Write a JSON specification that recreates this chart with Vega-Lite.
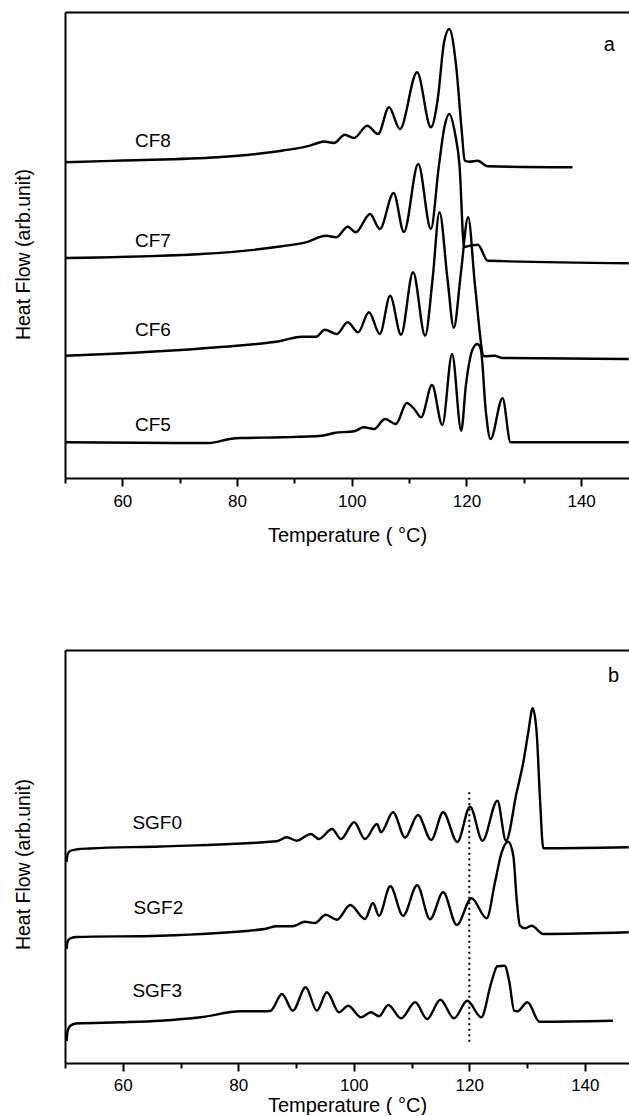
{
  "$schema": "https://vega.github.io/schema/vega-lite/v6.json",
  "padding": {"left": 13, "top": 12, "right": 0, "bottom": 0},
  "bounds": "flush",
  "spacing": 172,
  "config": {
    "font": "Liberation Sans",
    "view": {"stroke": null},
    "axis": {"grid": false, "domainColor": "black", "tickColor": "black", "labelColor": "black", "titleColor": "black", "domainWidth": 2, "tickWidth": 2, "titleFontWeight": "normal"}
  },
  "datasets": {
    "a": [
      {"s":"CF8","T":50,"v":315.7},{"s":"CF8","T":60,"v":317.5},{"s":"CF8","T":76.6,"v":320.7},{"s":"CF8","T":87.8,"v":327.3},{"s":"CF8","T":92.7,"v":332.3},{"s":"CF8","T":94.1,"v":335},{"s":"CF8","T":95.2,"v":336.5},{"s":"CF8","T":96.9,"v":335},{"s":"CF8","T":98.8,"v":343.3},{"s":"CF8","T":100.4,"v":340},{"s":"CF8","T":102.7,"v":352.3},{"s":"CF8","T":104.6,"v":344},{"s":"CF8","T":106.5,"v":370.7},{"s":"CF8","T":108.4,"v":349},{"s":"CF8","T":111.4,"v":405.7},{"s":"CF8","T":113.8,"v":350.7},{"s":"CF8","T":115.0,"v":379},{"s":"CF8","T":116.1,"v":435.7},{"s":"CF8","T":117.0,"v":449},{"s":"CF8","T":118.2,"v":412.3},{"s":"CF8","T":119.2,"v":345.7},{"s":"CF8","T":119.7,"v":317.3},{"s":"CF8","T":120.5,"v":316.3},{"s":"CF8","T":121.96,"v":317.3},{"s":"CF8","T":123.7,"v":311.7},{"s":"CF8","T":138.5,"v":310.7},
      {"s":"CF7","T":50,"v":220},{"s":"CF7","T":73.8,"v":224},{"s":"CF7","T":87.8,"v":231.7},{"s":"CF7","T":92.0,"v":235.7},{"s":"CF7","T":95.5,"v":242.3},{"s":"CF7","T":97.3,"v":240.7},{"s":"CF7","T":99.3,"v":251.3},{"s":"CF7","T":100.7,"v":245.7},{"s":"CF7","T":103.2,"v":264},{"s":"CF7","T":104.9,"v":249},{"s":"CF7","T":107.3,"v":285},{"s":"CF7","T":109.1,"v":246},{"s":"CF7","T":111.6,"v":314},{"s":"CF7","T":113.8,"v":249},{"s":"CF7","T":115.2,"v":312.3},{"s":"CF7","T":116.2,"v":352},{"s":"CF7","T":117.0,"v":364},{"s":"CF7","T":118.0,"v":345},{"s":"CF7","T":118.8,"v":312.3},{"s":"CF7","T":119.6,"v":231},{"s":"CF7","T":120.8,"v":232.5},{"s":"CF7","T":122.0,"v":233.3},{"s":"CF7","T":123.7,"v":217.3},{"s":"CF7","T":148.3,"v":214.7},
      {"s":"CF6","T":50,"v":122.3},{"s":"CF6","T":76.6,"v":130.7},{"s":"CF6","T":87.8,"v":137.3},{"s":"CF6","T":91.3,"v":141.3},{"s":"CF6","T":93.8,"v":141.3},{"s":"CF6","T":95.3,"v":148.3},{"s":"CF6","T":97.4,"v":144},{"s":"CF6","T":99.3,"v":155.7},{"s":"CF6","T":101.1,"v":145.7},{"s":"CF6","T":103.0,"v":165.7},{"s":"CF6","T":104.9,"v":144},{"s":"CF6","T":106.7,"v":182.3},{"s":"CF6","T":108.6,"v":143.3},{"s":"CF6","T":110.7,"v":205.7},{"s":"CF6","T":112.8,"v":142.3},{"s":"CF6","T":114.1,"v":199},{"s":"CF6","T":115.3,"v":265.7},{"s":"CF6","T":116.7,"v":199},{"s":"CF6","T":117.8,"v":150.2},{"s":"CF6","T":119.05,"v":205.7},{"s":"CF6","T":120.3,"v":260.7},{"s":"CF6","T":121.5,"v":192.3},{"s":"CF6","T":123.1,"v":121.7},{"s":"CF6","T":124.9,"v":122.3},{"s":"CF6","T":126.3,"v":120},{"s":"CF6","T":148.3,"v":119},
      {"s":"CF5","T":50,"v":35.7},{"s":"CF5","T":72.4,"v":35},{"s":"CF5","T":75.2,"v":35},{"s":"CF5","T":78.7,"v":39},{"s":"CF5","T":80.8,"v":40},{"s":"CF5","T":87.8,"v":40.7},{"s":"CF5","T":94.8,"v":42.3},{"s":"CF5","T":96.9,"v":45},{"s":"CF5","T":100.4,"v":46.7},{"s":"CF5","T":102.1,"v":50.7},{"s":"CF5","T":103.9,"v":49},{"s":"CF5","T":105.8,"v":59},{"s":"CF5","T":107.7,"v":54},{"s":"CF5","T":109.6,"v":75},{"s":"CF5","T":110.9,"v":69},{"s":"CF5","T":112.1,"v":60.7},{"s":"CF5","T":114.0,"v":93},{"s":"CF5","T":115.8,"v":53},{"s":"CF5","T":117.5,"v":124},{"s":"CF5","T":119.1,"v":47.3},{"s":"CF5","T":119.9,"v":92.3},{"s":"CF5","T":121.1,"v":129},{"s":"CF5","T":121.9,"v":134},{"s":"CF5","T":122.5,"v":129},{"s":"CF5","T":123.4,"v":65.7},{"s":"CF5","T":124.2,"v":39},{"s":"CF5","T":126.3,"v":79.7},{"s":"CF5","T":127.7,"v":35.7},{"s":"CF5","T":148.3,"v":35.7}
    ],
    "la": [
      {"s":"CF8","T":62.2,"v":331},{"s":"CF7","T":62.2,"v":230.7},{"s":"CF6","T":62.2,"v":142.3},{"s":"CF5","T":62.2,"v":47.3}
    ],
    "pa": [{"s":"a","T":144.9,"v":427.3}],
    "b": [
      {"s":"SGF0","T":50.28,"v":201},{"s":"SGF0","T":50.43,"v":208},{"s":"SGF0","T":50.87,"v":212},{"s":"SGF0","T":51.9,"v":213.5},{"s":"SGF0","T":54.3,"v":214.5},{"s":"SGF0","T":66.5,"v":216.5},{"s":"SGF0","T":86.67,"v":221.7},{"s":"SGF0","T":88.4,"v":225.7},{"s":"SGF0","T":90.13,"v":222.3},{"s":"SGF0","T":92.57,"v":229},{"s":"SGF0","T":93.96,"v":224},{"s":"SGF0","T":96.24,"v":234},{"s":"SGF0","T":97.78,"v":224},{"s":"SGF0","T":100.07,"v":240.7},{"s":"SGF0","T":101.94,"v":224},{"s":"SGF0","T":104.02,"v":239},{"s":"SGF0","T":104.71,"v":230.7},{"s":"SGF0","T":106.8,"v":250.7},{"s":"SGF0","T":108.88,"v":225.5},{"s":"SGF0","T":111.11,"v":248},{"s":"SGF0","T":113.4,"v":223},{"s":"SGF0","T":115.48,"v":250.7},{"s":"SGF0","T":117.92,"v":221},{"s":"SGF0","T":120.14,"v":256.3},{"s":"SGF0","T":122.28,"v":222.3},{"s":"SGF0","T":124.86,"v":262.3},{"s":"SGF0","T":126.35,"v":222.3},{"s":"SGF0","T":128.2,"v":270.7},{"s":"SGF0","T":129.35,"v":300.7},{"s":"SGF0","T":130.21,"v":330.7},{"s":"SGF0","T":130.97,"v":354.7},{"s":"SGF0","T":131.66,"v":330.7},{"s":"SGF0","T":132.24,"v":264},{"s":"SGF0","T":132.81,"v":214.7},{"s":"SGF0","T":147.6,"v":215.7},
      {"s":"SGF2","T":50.28,"v":114},{"s":"SGF2","T":50.43,"v":121},{"s":"SGF2","T":50.87,"v":124.5},{"s":"SGF2","T":51.9,"v":126},{"s":"SGF2","T":66.52,"v":127.3},{"s":"SGF2","T":84.57,"v":134},{"s":"SGF2","T":86.67,"v":136.7},{"s":"SGF2","T":89.44,"v":136.7},{"s":"SGF2","T":91.53,"v":141.3},{"s":"SGF2","T":93.27,"v":140},{"s":"SGF2","T":95.14,"v":148.3},{"s":"SGF2","T":97.09,"v":143.3},{"s":"SGF2","T":99.38,"v":158},{"s":"SGF2","T":101.94,"v":144},{"s":"SGF2","T":103.32,"v":160},{"s":"SGF2","T":104.36,"v":147.3},{"s":"SGF2","T":106.32,"v":176.7},{"s":"SGF2","T":108.53,"v":147.3},{"s":"SGF2","T":110.98,"v":177.7},{"s":"SGF2","T":113.19,"v":143.7},{"s":"SGF2","T":115.48,"v":170.7},{"s":"SGF2","T":117.83,"v":138},{"s":"SGF2","T":120.38,"v":164.7},{"s":"SGF2","T":123.0,"v":144.7},{"s":"SGF2","T":124.45,"v":180.7},{"s":"SGF2","T":125.6,"v":210.7},{"s":"SGF2","T":126.75,"v":221.3},{"s":"SGF2","T":127.62,"v":207.3},{"s":"SGF2","T":128.2,"v":164},{"s":"SGF2","T":128.77,"v":137.3},{"s":"SGF2","T":129.64,"v":134.7},{"s":"SGF2","T":130.8,"v":137.3},{"s":"SGF2","T":132.8,"v":129},{"s":"SGF2","T":147.6,"v":130.7},
      {"s":"SGF3","T":50.28,"v":22},{"s":"SGF3","T":50.43,"v":31},{"s":"SGF3","T":50.87,"v":37},{"s":"SGF3","T":51.9,"v":39.5},{"s":"SGF3","T":59.57,"v":40.7},{"s":"SGF3","T":66.52,"v":42.3},{"s":"SGF3","T":73.48,"v":45.7},{"s":"SGF3","T":80.42,"v":51.7},{"s":"SGF3","T":84.57,"v":51.7},{"s":"SGF3","T":85.63,"v":52.3},{"s":"SGF3","T":87.57,"v":69},{"s":"SGF3","T":89.44,"v":52.3},{"s":"SGF3","T":91.67,"v":75.7},{"s":"SGF3","T":93.61,"v":52.3},{"s":"SGF3","T":95.34,"v":70.7},{"s":"SGF3","T":97.44,"v":50.7},{"s":"SGF3","T":99.03,"v":57.3},{"s":"SGF3","T":101.25,"v":45.7},{"s":"SGF3","T":102.98,"v":50.7},{"s":"SGF3","T":104.36,"v":46.7},{"s":"SGF3","T":105.97,"v":58},{"s":"SGF3","T":108.19,"v":44.7},{"s":"SGF3","T":110.63,"v":60.7},{"s":"SGF3","T":112.71,"v":44},{"s":"SGF3","T":114.99,"v":63.3},{"s":"SGF3","T":117.35,"v":44.7},{"s":"SGF3","T":119.65,"v":62.3},{"s":"SGF3","T":122.07,"v":45.7},{"s":"SGF3","T":123.82,"v":80.7},{"s":"SGF3","T":124.86,"v":96.7},{"s":"SGF3","T":126.11,"v":97.3},{"s":"SGF3","T":126.94,"v":80.7},{"s":"SGF3","T":127.77,"v":52.3},{"s":"SGF3","T":128.34,"v":51.7},{"s":"SGF3","T":130.07,"v":60.7},{"s":"SGF3","T":132.15,"v":41.3},{"s":"SGF3","T":144.86,"v":42.3}
    ],
    "lb": [
      {"s":"SGF0","T":61.67,"v":234},{"s":"SGF2","T":61.88,"v":149},{"s":"SGF3","T":61.67,"v":65.7}
    ],
    "pb": [{"s":"b","T":144.96,"v":380.7}],
    "rb": [{"T":120,"v1":21.3,"v2":270.7}]
  },
  "vconcat": [
    {
      "width": 564,
      "height": 466,
      "resolve": {"axis": {"x": "independent"}},
      "layer": [
        {
          "data": {"name": "a"},
          "mark": {"type": "line", "interpolate": "monotone", "color": "black", "strokeWidth": 2.4, "strokeJoin": "round"},
          "encoding": {
            "x": {"field": "T", "type": "quantitative", "scale": {"domain": [50, 148.35], "nice": false, "zero": false},
                  "axis": {"orient": "bottom", "values": [60, 80, 100, 120, 140], "tickSize": 8, "labelFontSize": 17, "labelPadding": 7, "labelFlush": false, "title": "Temperature ( °C)", "titleFontSize": 20, "titlePadding": 16}},
            "y": {"field": "v", "type": "quantitative", "scale": {"domain": [0, 466], "nice": false, "zero": false},
                  "axis": {"ticks": false, "labels": false, "domain": true, "title": "Heat Flow (arb.unit)", "titleFontSize": 19.5, "titleX": -36, "titleY": 242, "titleBaseline": "alphabetic"}},
            "detail": {"field": "s"}
          }
        },
        {
          "data": {"name": "la"},
          "mark": {"type": "text", "align": "left", "baseline": "alphabetic", "fontSize": 19, "color": "black"},
          "encoding": {
            "x": {"field": "T", "type": "quantitative", "scale": {"domain": [50, 148.35], "nice": false, "zero": false},
                  "axis": {"orient": "bottom", "values": [50, 70, 90, 110, 130], "tickSize": 5, "labels": false, "domain": false, "title": null}},
            "y": {"field": "v", "type": "quantitative", "scale": {"domain": [0, 466], "nice": false, "zero": false},
                  "axis": {"ticks": false, "labels": false, "domain": true, "title": "Heat Flow (arb.unit)", "titleFontSize": 19.5, "titleX": -36, "titleY": 242, "titleBaseline": "alphabetic"}},
            "text": {"field": "s"}
          }
        },
        {
          "data": {"name": "pa"},
          "mark": {"type": "text", "align": "center", "baseline": "alphabetic", "fontSize": 20, "color": "black"},
          "encoding": {
            "x": {"field": "T", "type": "quantitative", "scale": {"domain": [50, 148.35], "nice": false, "zero": false},
                  "axis": {"orient": "top", "ticks": false, "labels": false, "domain": true, "title": null}},
            "y": {"field": "v", "type": "quantitative", "scale": {"domain": [0, 466], "nice": false, "zero": false},
                  "axis": {"ticks": false, "labels": false, "domain": true, "title": "Heat Flow (arb.unit)", "titleFontSize": 19.5, "titleX": -36, "titleY": 242, "titleBaseline": "alphabetic"}},
            "text": {"field": "s"}
          }
        }
      ]
    },
    {
      "width": 564,
      "height": 413,
      "resolve": {"axis": {"x": "independent"}},
      "layer": [
        {
          "data": {"name": "b"},
          "mark": {"type": "line", "interpolate": "monotone", "color": "black", "strokeWidth": 2.4, "strokeJoin": "round"},
          "encoding": {
            "x": {"field": "T", "type": "quantitative", "scale": {"domain": [50, 147.65], "nice": false, "zero": false},
                  "axis": {"orient": "bottom", "values": [60, 80, 100, 120, 140], "tickSize": 8, "labelFontSize": 17, "labelPadding": 6, "labelFlush": false, "title": "Temperature ( °C)", "titleFontSize": 20, "titlePadding": 2}},
            "y": {"field": "v", "type": "quantitative", "scale": {"domain": [0, 413], "nice": false, "zero": false},
                  "axis": {"ticks": false, "labels": false, "domain": true, "title": "Heat Flow (arb.unit)", "titleFontSize": 19.5, "titleX": -36, "titleY": 214, "titleBaseline": "alphabetic"}},
            "detail": {"field": "s"}
          }
        },
        {
          "data": {"name": "lb"},
          "mark": {"type": "text", "align": "left", "baseline": "alphabetic", "fontSize": 19, "color": "black"},
          "encoding": {
            "x": {"field": "T", "type": "quantitative", "scale": {"domain": [50, 147.65], "nice": false, "zero": false},
                  "axis": {"orient": "bottom", "values": [50, 70, 90, 110, 130], "tickSize": 5, "labels": false, "domain": false, "title": null}},
            "y": {"field": "v", "type": "quantitative", "scale": {"domain": [0, 413], "nice": false, "zero": false},
                  "axis": {"ticks": false, "labels": false, "domain": true, "title": "Heat Flow (arb.unit)", "titleFontSize": 19.5, "titleX": -36, "titleY": 214, "titleBaseline": "alphabetic"}},
            "text": {"field": "s"}
          }
        },
        {
          "data": {"name": "pb"},
          "mark": {"type": "text", "align": "center", "baseline": "alphabetic", "fontSize": 20, "color": "black"},
          "encoding": {
            "x": {"field": "T", "type": "quantitative", "scale": {"domain": [50, 147.65], "nice": false, "zero": false},
                  "axis": {"orient": "top", "ticks": false, "labels": false, "domain": true, "title": null}},
            "y": {"field": "v", "type": "quantitative", "scale": {"domain": [0, 413], "nice": false, "zero": false},
                  "axis": {"ticks": false, "labels": false, "domain": true, "title": "Heat Flow (arb.unit)", "titleFontSize": 19.5, "titleX": -36, "titleY": 214, "titleBaseline": "alphabetic"}},
            "text": {"field": "s"}
          }
        },
        {
          "data": {"name": "rb"},
          "mark": {"type": "rule", "color": "black", "strokeWidth": 2, "strokeDash": [2, 3.5]},
          "encoding": {
            "x": {"field": "T", "type": "quantitative", "scale": {"domain": [50, 147.65], "nice": false, "zero": false}, "axis": null},
            "y": {"field": "v1", "type": "quantitative", "scale": {"domain": [0, 413], "nice": false, "zero": false},
                  "axis": {"ticks": false, "labels": false, "domain": true, "title": "Heat Flow (arb.unit)", "titleFontSize": 19.5, "titleX": -36, "titleY": 214, "titleBaseline": "alphabetic"}},
            "y2": {"field": "v2"}
          }
        }
      ]
    }
  ]
}
